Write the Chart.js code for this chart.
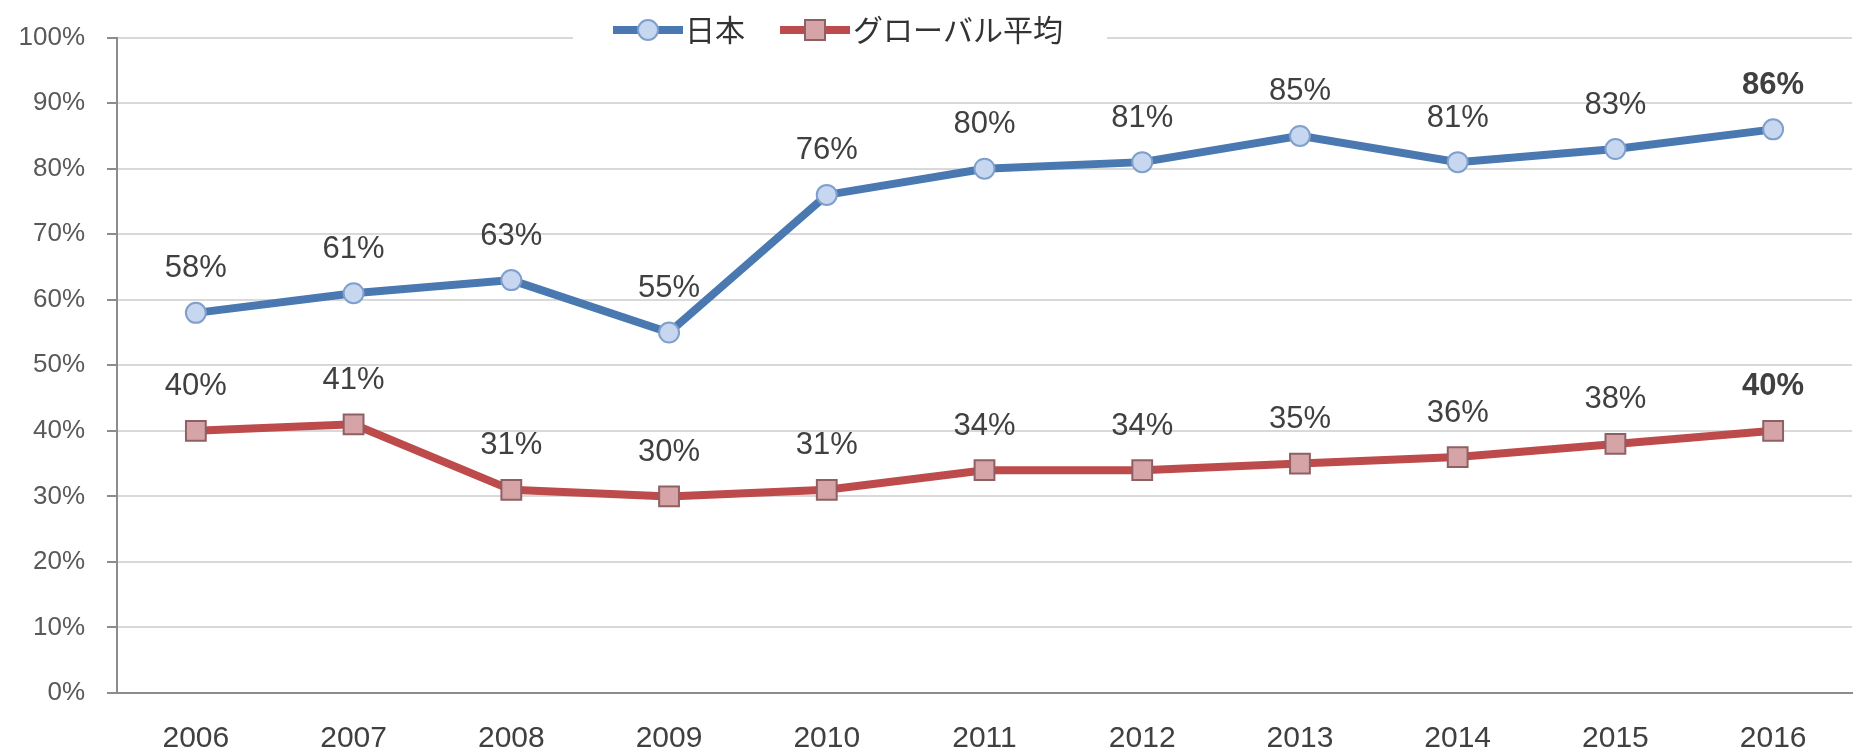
<!DOCTYPE html>
<html>
<head>
<meta charset="utf-8">
<script src="https://cdn.jsdelivr.net/npm/chart.js@4/dist/chart.umd.min.js"></script>
<style>
  html, body { margin: 0; padding: 0; background: #fff; overflow: hidden; }
  .chart-container { position: relative; width: 1868px; height: 756px; }
</style>
</head>
<body>
<div class="chart-container">
  <canvas id="rateChart"></canvas>
</div>
<script>
const years = ['2006', '2007', '2008', '2009', '2010', '2011', '2012', '2013', '2014', '2015', '2016'];
const japan = [58, 61, 63, 55, 76, 80, 81, 85, 81, 83, 86];
const globalAvg = [40, 41, 31, 30, 31, 34, 34, 35, 36, 38, 40];
const seriesNames = ['日本', 'グローバル平均'];
const yTicks = [0, 10, 20, 30, 40, 50, 60, 70, 80, 90, 100];

const BLUE = '#4a78b1';
const RED = '#be4b4b';
const LABEL_FONT = '"Liberation Sans", Arial, sans-serif';
const JP_FONT = '"Noto Sans CJK JP", "Noto Sans", sans-serif';

// value labels above each point, the last one of each series in bold
const valueLabels = {
  id: 'valueLabels',
  afterDatasetsDraw(chart) {
    const ctx = chart.ctx;
    ctx.save();
    ctx.fillStyle = '#404040';
    ctx.textAlign = 'center';
    ctx.textBaseline = 'middle';
    chart.data.datasets.forEach((ds, i) => {
      const meta = chart.getDatasetMeta(i);
      meta.data.forEach((pt, j) => {
        const last = j === ds.data.length - 1;
        ctx.font = (last ? 'bold ' : '') + '31px ' + LABEL_FONT;
        ctx.fillText(ds.data[j] + '%', pt.x, pt.y - 44);
      });
    });
    ctx.restore();
  }
};

// Excel style legend sitting on the top gridline
const lineLegend = {
  id: 'lineLegend',
  afterDraw(chart) {
    const ctx = chart.ctx;
    const y = 30;
    ctx.save();
    ctx.fillStyle = '#ffffff';
    ctx.fillRect(573, 12, 534, 40);

    const ds = chart.data.datasets;
    const items = [
      { x: 613, textX: 685, ds: ds[0] },
      { x: 780, textX: 853, ds: ds[1] }
    ];
    items.forEach(it => {
      ctx.strokeStyle = it.ds.borderColor;
      ctx.lineWidth = 8;
      ctx.beginPath();
      ctx.moveTo(it.x, y);
      ctx.lineTo(it.x + 70, y);
      ctx.stroke();
      ctx.fillStyle = it.ds.pointBackgroundColor;
      ctx.strokeStyle = it.ds.pointBorderColor;
      ctx.lineWidth = 2;
      ctx.beginPath();
      if (it.ds.pointStyle === 'rect') {
        ctx.rect(it.x + 25, y - 10, 20, 20);
      } else {
        ctx.arc(it.x + 35, y, 10, 0, Math.PI * 2);
      }
      ctx.fill();
      ctx.stroke();
      ctx.fillStyle = '#333333';
      ctx.font = '30px ' + JP_FONT;
      ctx.textAlign = 'left';
      ctx.textBaseline = 'middle';
      ctx.fillText(it.ds.label, it.textX, y);
    });
    ctx.restore();
  }
};

const ctx = document.getElementById('rateChart').getContext('2d');
new Chart(ctx, {
  type: 'line',
  data: {
    labels: years,
    datasets: [{
      label: seriesNames[0],
      data: japan,
      borderColor: BLUE,
      borderWidth: 8,
      pointStyle: 'circle',
      pointRadius: 10,
      pointHoverRadius: 10,
      pointBorderWidth: 2,
      pointBackgroundColor: '#c6d7ef',
      pointBorderColor: '#7f9fcc',
      tension: 0
    }, {
      label: seriesNames[1],
      data: globalAvg,
      borderColor: RED,
      borderWidth: 8,
      pointStyle: 'rect',
      pointRadius: 14,
      pointHoverRadius: 14,
      pointBorderWidth: 2,
      pointBackgroundColor: '#d6a4a6',
      pointBorderColor: '#8e6063',
      tension: 0
    }]
  },
  options: {
    responsive: true,
    maintainAspectRatio: false,
    animation: false,
    layout: { padding: { top: 36, left: 0, right: 0, bottom: 0 } },
    plugins: {
      legend: { display: false },
      tooltip: { enabled: false }
    },
    scales: {
      x: {
        offset: true,
        grid: { display: false, drawTicks: false },
        border: { display: true, color: '#8c8c8c', width: 2 },
        ticks: {
          color: '#404040',
          padding: 28,
          font: { family: LABEL_FONT, size: 30 }
        },
        afterFit(scale) { scale.height = 63; }
      },
      y: {
        min: 0,
        max: 100,
        afterBuildTicks(scale) { scale.ticks = yTicks.map(v => ({ value: v })); },
        grid: { color: '#d9d9d9', lineWidth: 2, tickColor: '#8c8c8c', tickLength: 10 },
        border: { display: true, color: '#8c8c8c', width: 2 },
        ticks: {
          color: '#595959',
          padding: 22,
          font: { family: LABEL_FONT, size: 26 },
          callback: v => v + '%'
        },
        afterFit(scale) { scale.width = 117; }
      }
    }
  },
  plugins: [valueLabels, lineLegend]
});
</script>
</body>
</html>
